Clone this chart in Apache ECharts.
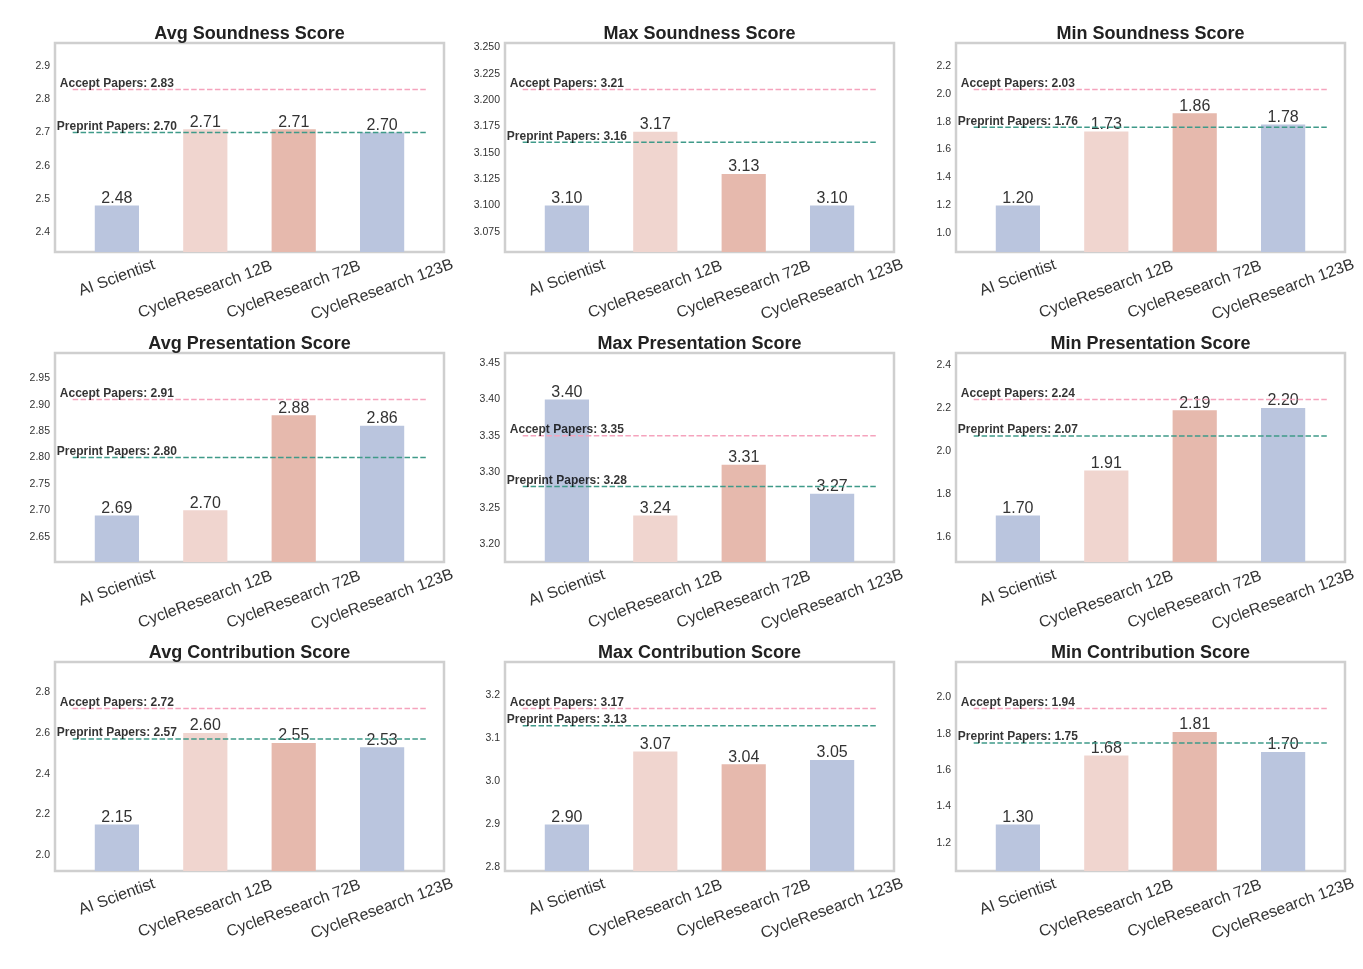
<!DOCTYPE html>
<html><head><meta charset="utf-8">
<script src="https://cdn.jsdelivr.net/npm/echarts@6/dist/echarts.min.js"></script>
<style>html,body{margin:0;padding:0;background:#fff}#c{width:1363px;height:969px}</style>
</head><body><div id="c"></div>
<script>
const categories = ['AI Scientist', 'CycleResearch 12B', 'CycleResearch 72B', 'CycleResearch 123B'];
const titles = ['Avg Soundness Score', 'Max Soundness Score', 'Min Soundness Score',
  'Avg Presentation Score', 'Max Presentation Score', 'Min Presentation Score',
  'Avg Contribution Score', 'Max Contribution Score', 'Min Contribution Score'];
const avgSoundness = [2.48, 2.71, 2.71, 2.70];
const maxSoundness = [3.10, 3.17, 3.13, 3.10];
const minSoundness = [1.20, 1.73, 1.86, 1.78];
const avgPresentation = [2.69, 2.70, 2.88, 2.86];
const maxPresentation = [3.40, 3.24, 3.31, 3.27];
const minPresentation = [1.70, 1.91, 2.19, 2.20];
const avgContribution = [2.15, 2.60, 2.55, 2.53];
const maxContribution = [2.90, 3.07, 3.04, 3.05];
const minContribution = [1.30, 1.68, 1.81, 1.70];
const acceptScores = [2.83, 3.21, 2.03, 2.91, 3.35, 2.24, 2.72, 3.17, 1.94];
const preprintScores = [2.70, 3.16, 1.76, 2.80, 3.28, 2.07, 2.57, 3.13, 1.75];
const tickIntervals = [0.1, 0.025, 0.2, 0.05, 0.05, 0.2, 0.2, 0.1, 0.2];
const tickDecimals = [1, 3, 1, 2, 2, 1, 1, 1, 1];

const panelValues = [avgSoundness, maxSoundness, minSoundness, avgPresentation, maxPresentation,
  minPresentation, avgContribution, maxContribution, minContribution];
const barColors = ['#bac5de', '#f0d5cf', '#e6b9ad', '#bac5de'];

const colLeft = [55, 505, 956], rowTop = [43, 353, 662], W = 389, H = 209;
const font = '"Liberation Sans", Arial, Helvetica, sans-serif';

const grid = [], xAxis = [], yAxis = [], series = [], title = [];
panelValues.forEach((vals, i) => {
  const r = Math.floor(i / 3), c = i % 3;
  const left = colLeft[c], top = rowTop[r];
  grid.push({left, top, width: W, height: H, show: true, borderColor: '#cfcfcf', borderWidth: 2.5, containLabel: false});
  title.push({text: titles[i], left: left + W / 2, top: top - 18, textAlign: 'center', padding: 0,
    textStyle: {fontFamily: font, fontSize: 18, fontWeight: 'bold', color: '#222'}});
  const all = vals.concat([acceptScores[i], preprintScores[i]]);
  const lo = Math.min(...all), hi = Math.max(...all), span = hi - lo;
  const iv = tickIntervals[i], dec = tickDecimals[i];
  yAxis.push({type: 'value', gridIndex: i, min: lo - 0.4 * span, max: hi + 0.4 * span,
    minInterval: iv, maxInterval: iv,
    splitLine: {show: false}, axisLine: {show: false}, axisTick: {show: false},
    axisLabel: {showMinLabel: false, showMaxLabel: false, margin: 5, fontSize: 10.5, color: '#333', fontFamily: font,
      formatter: v => { const k = v / iv; return Math.abs(k - Math.round(k)) < 1e-6 ? v.toFixed(dec) : ''; }}});
  xAxis.push({type: 'value', gridIndex: i, min: -0.7, max: 3.7, minInterval: 1, maxInterval: 1,
    splitLine: {show: false}, axisLine: {show: false}, axisTick: {show: false},
    axisLabel: {showMinLabel: false, showMaxLabel: false, rotate: 20, align: 'center', verticalAlign: 'middle', margin: 26,
      formatter: v => { const k = Math.round(v); if (Math.abs(v - k) > 1e-6 || k < 0 || k > 3) return '';
        return k === 0 ? '{s|' + categories[k] + '}' : '{l|' + categories[k] + '}'; },
      rich: {s: {fontSize: 16, color: '#333', fontFamily: font},
             l: {fontSize: 16, color: '#333', fontFamily: font, padding: [22, 8, 0, 0]}}}});
  series.push({type: 'bar', xAxisIndex: i, yAxisIndex: i, barWidth: '50%',
    data: vals.map((v, j) => ({value: [j, v], itemStyle: {color: barColors[j]}})),
    label: {show: true, position: 'top', distance: -1, fontSize: 16, lineHeight: 16, color: '#333', fontFamily: font,
      formatter: p => p.value[1].toFixed(2)}, z: 2});
  [[acceptScores[i], 'Accept Papers', '#f5a3bd'], [preprintScores[i], 'Preprint Papers', '#3f9a89']].forEach(([v, name, col]) => {
    series.push({type: 'line', xAxisIndex: i, yAxisIndex: i, data: [[-0.5, v], [3.5, v]], symbol: 'none',
      lineStyle: {color: col, width: 1.5, type: [5.5, 2.4]}, z: 3, silent: true});
    series.push({type: 'scatter', xAxisIndex: i, yAxisIndex: i, data: [[0, v]], symbolSize: 0,
      label: {show: true, position: 'top', distance: 0, formatter: name + ': ' + v.toFixed(2),
        fontSize: 12, fontWeight: 'bold', color: '#000', fontFamily: font}, z: 4, silent: true});
  });
});

const chart = echarts.init(document.getElementById('c'), null, {renderer: 'canvas'});
chart.setOption({animation: false, backgroundColor: '#fff', title, grid, xAxis, yAxis, series});
</script></body></html>
